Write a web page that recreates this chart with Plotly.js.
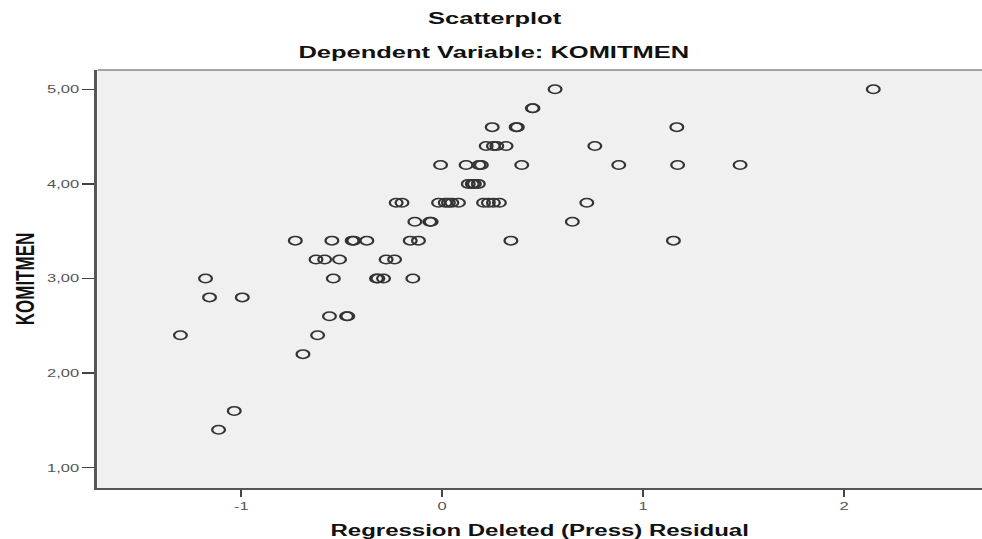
<!DOCTYPE html>
<html>
<head>
<meta charset="utf-8">
<script src="https://cdn.plot.ly/plotly-3.0.1.min.js"></script>
<style>
html,body{margin:0;padding:0;background:#fff;overflow:hidden;width:982px;height:539px;}
#chart{width:655px;height:539px;transform:scaleX(1.4992);transform-origin:0 0;}
</style>
</head>
<body>
<div id="chart"></div>
<script>
// Regression Deleted (Press) Residual (x) and KOMITMEN (y)
const residual = [
  0.562, 2.146,
  0.449, 0.452,
  0.249, 0.368, 0.374, 1.168,
  0.219, 0.255, 0.272, 0.318, 0.760,
  -0.008, 0.119, 0.183, 0.195, 0.396, 0.879, 1.172, 1.483,
  0.130, 0.150, 0.160, 0.180,
  -0.229, -0.200, -0.018, 0.015, 0.031, 0.048, 0.081, 0.206, 0.230, 0.255, 0.285, 0.720,
  -0.136, -0.062, -0.055, 0.648,
  -0.731, -0.549, -0.448, -0.440, -0.375, -0.159, -0.118, 0.342, 1.151,
  -0.628, -0.585, -0.511, -0.279, -0.237,
  -1.178, -0.542, -0.327, -0.320, -0.292, -0.146,
  -1.158, -0.995,
  -0.561, -0.476, -0.470,
  -1.303, -0.620,
  -0.693,
  -1.035,
  -1.113
];
const komitmen = [
  5.0, 5.0,
  4.8, 4.8,
  4.6, 4.6, 4.6, 4.6,
  4.4, 4.4, 4.4, 4.4, 4.4,
  4.2, 4.2, 4.2, 4.2, 4.2, 4.2, 4.2, 4.2,
  4.0, 4.0, 4.0, 4.0,
  3.8, 3.8, 3.8, 3.8, 3.8, 3.8, 3.8, 3.8, 3.8, 3.8, 3.8, 3.8,
  3.6, 3.6, 3.6, 3.6,
  3.4, 3.4, 3.4, 3.4, 3.4, 3.4, 3.4, 3.4, 3.4,
  3.2, 3.2, 3.2, 3.2, 3.2,
  3.0, 3.0, 3.0, 3.0, 3.0, 3.0,
  2.8, 2.8,
  2.6, 2.6, 2.6,
  2.4, 2.4,
  2.2,
  1.6,
  1.4
];
const xTicks = [-1, 0, 1, 2];
const xTickLabels = ['-1', '0', '1', '2'];
const yTicks = [1, 2, 3, 4, 5];
const yTickLabels = ['1,00', '2,00', '3,00', '4,00', '5,00'];

const fontFam = 'Liberation Sans, Arial, sans-serif';

const trace = {
  type: 'scatter',
  mode: 'markers',
  x: residual,
  y: komitmen,
  marker: {symbol: 'circle-open', size: 8.5, color: '#333333', line: {width: 1.5, color: '#333333'}},
  hoverinfo: 'x+y'
};

const layout = {
  width: 655,
  height: 539,
  margin: {l: 64.7, r: 0, t: 70, b: 51},
  paper_bgcolor: '#ffffff',
  plot_bgcolor: '#f0f0f0',
  showlegend: false,
  title: {
    text: '<b>Scatterplot</b>',
    font: {family: fontFam, size: 17, color: '#111'},
    x: 0.449, xref: 'paper', xanchor: 'center',
    y: 1 - 18/539, yref: 'container', yanchor: 'middle'
  },
  annotations: [{
    text: '<b>Dependent Variable: KOMITMEN</b>',
    xref: 'paper', yref: 'paper', x: 0.449, y: 1, yshift: 18,
    xanchor: 'center', yanchor: 'middle', showarrow: false,
    font: {family: fontFam, size: 17, color: '#111'}
  }],
  xaxis: {
    range: [-1.716, 2.687],
    tickvals: xTicks,
    ticktext: xTickLabels,
    ticks: 'outside', ticklen: 7, tickwidth: 1.3, tickcolor: '#444',
    showgrid: false, zeroline: false,
    showline: true, linecolor: '#555', linewidth: 2,
    tickfont: {family: fontFam, size: 11, color: '#555'},
    title: {text: '<b>Regression Deleted (Press) Residual</b>', font: {family: fontFam, size: 16, color: '#111'}, standoff: 14}
  },
  yaxis: {
    range: [0.785, 5.204],
    tickvals: yTicks,
    ticktext: yTickLabels,
    ticks: 'outside', ticklen: 8, tickwidth: 1.5, tickcolor: '#444',
    showgrid: false, zeroline: false,
    showline: true, linecolor: '#555', linewidth: 2,
    tickfont: {family: fontFam, size: 11, color: '#555'},
    title: {text: '<b>KOMITMEN</b>', font: {family: fontFam, size: 17, color: '#111'}, standoff: 4}
  },
  shapes: [{
    type: 'line', xref: 'paper', yref: 'paper', x0: 0, x1: 1, y0: 1, y1: 1,
    line: {color: '#888', width: 1.5}
  }]
};

Plotly.newPlot('chart', [trace], layout, {staticPlot: true, displayModeBar: false});
</script>
</body>
</html>
